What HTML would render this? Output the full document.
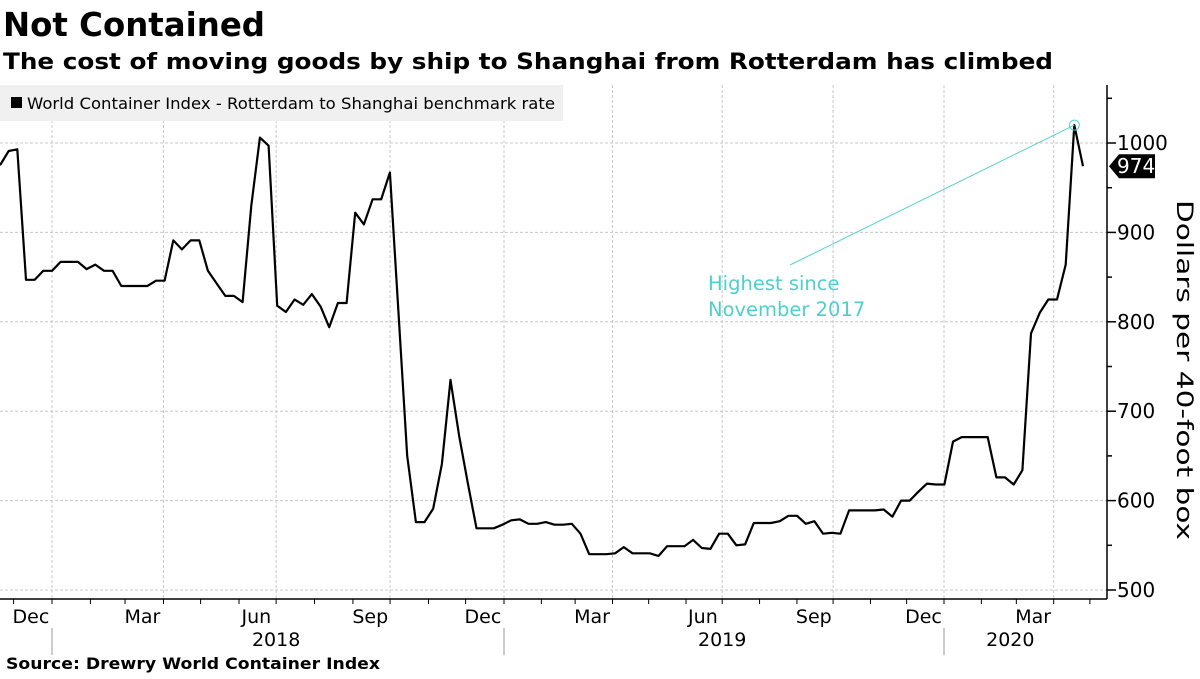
<!DOCTYPE html>
<html><head><meta charset="utf-8"><style>
body{margin:0;background:#fff;width:1200px;height:675px;overflow:hidden;font-family:"DejaVu Sans",sans-serif}
</style></head><body>
<svg id="chart" width="1200" height="675" xmlns="http://www.w3.org/2000/svg" font-family="DejaVu Sans, sans-serif">
<text x="3" y="36" font-size="33" font-weight="bold" fill="#000" textLength="262" lengthAdjust="spacingAndGlyphs">Not Contained</text>
<text x="3" y="69" font-size="22" font-weight="bold" fill="#000" textLength="1050" lengthAdjust="spacingAndGlyphs">The cost of moving goods by ship to Shanghai from Rotterdam has climbed</text>
<g id="grid"></g>
<g id="axes"></g>
<rect x="0" y="85" width="563" height="36" fill="#f0f0f0"/>
<rect x="11" y="97" width="11" height="11" fill="#000"/>
<text x="27" y="109" font-size="16" fill="#000" textLength="528" lengthAdjust="spacingAndGlyphs">World Container Index - Rotterdam to Shanghai benchmark rate</text>
<g id="series"></g>
<text transform="translate(1177,370) rotate(90)" text-anchor="middle" font-size="22" fill="#000" textLength="340" lengthAdjust="spacingAndGlyphs">Dollars per 40-foot box</text>
<text x="6" y="669" font-size="16" font-weight="bold" fill="#000" textLength="374" lengthAdjust="spacingAndGlyphs">Source: Drewry World Container Index</text>
</svg>
<script>
const values = [975,991,993,847,847,857,857,867,867,867,859,864,857,857,840,840,840,840,846,846,891,881,891,891,857,843,829,829,822,930,1006,997,818,811,825,819,831,817,794,821,821,922,909,937,937,967,
810,650,
576,576,591,641,735,672,619,569,569,569,573,578,579,574,574,576,573,573,574,563,540,540,540,541,548,541,541,541,538,549,549,549,556,547,546,563,563,550,551,575,575,575,577,583,583,574,577,563,564,563,589,589,589,589,
590,582,600,600,610,619,618,618,666,671,671,671,671,626,626,618,634,787,810,825,825,864,1020,974];
const yTicks = [500,600,700,800,900,1000];
const monthLabels = ["Dec","Mar","Jun","Sep","Dec","Mar","Jun","Sep","Dec","Mar"];
const monthLabelDates = ["2017-12-15","2018-03-15","2018-06-15","2018-09-15","2018-12-15","2019-03-15","2019-06-15","2019-09-15","2019-12-15","2020-03-15"];
const yearLabels = ["2018","2019","2020"];
const yearLabelDates = ["2018-07-01","2019-07-01","2020-02-25"];

const NS="http://www.w3.org/2000/svg";
const plotTop=85, plotBottom=599, axisX=1107, plotRight=1083;
function y(v){return 143+(1000-v)*0.894;}
function xi(i){return i*plotRight/(values.length-1);}
const dA=Date.UTC(2018,0,1), dB=Date.UTC(2019,0,1), dC=Date.UTC(2020,0,1);
function xd(s){const p=s.split('-').map(Number);const t=Date.UTC(p[0],p[1]-1,p[2]);
  if(t<dB) return 52+(t-dA)/(dB-dA)*452;
  return 504+(t-dB)/(dC-dB)*440;}
function mk(tag,attrs,parent){const e=document.createElementNS(NS,tag);for(const k in attrs)e.setAttribute(k,attrs[k]);parent.appendChild(e);return e;}
const grid=document.getElementById('grid'), axes=document.getElementById('axes'), series=document.getElementById('series');
yTicks.forEach(v=>{
  const g=mk('line',{x1:0,x2:axisX,y1:y(v),y2:y(v),stroke:'#c8c8c8','stroke-dasharray':'3,2','stroke-width':1},grid);
  
  
  const t=mk('text',{x:1117,y:y(v)+7,'font-size':20,fill:'#000'},axes);
  t.textContent=v;
  
  
});
for(let v=500;v<=1050;v+=50){
  const t=mk('line',{x1:axisX,x2:axisX+(v%100===0?9:5),y1:y(v),y2:y(v),stroke:'#000','stroke-width':1.5},axes);
  
  
}
const ya=mk('line',{x1:axisX,x2:axisX,y1:plotTop,y2:plotBottom,stroke:'#000','stroke-width':1.5},axes);


const xa=mk('line',{x1:0,x2:axisX,y1:plotBottom,y2:plotBottom,stroke:'#000','stroke-width':1.5},axes);


for(let yr=2017;yr<=2020;yr++){for(let m=1;m<=12;m++){
  const s=yr+'-'+String(m).padStart(2,'0')+'-01';const x=xd(s);
  if(x<0||x>1100)continue;
  const t=mk('line',{x1:x,x2:x,y1:plotBottom,y2:plotBottom+5,stroke:'#000','stroke-width':1},axes);
  
  
  if((m-1)%3===0){
    const g=mk('line',{x1:x,x2:x,y1:plotTop,y2:plotBottom,stroke:'#c8c8c8','stroke-dasharray':'3,2','stroke-width':1},grid);
    
    
    if(m===1){
      const sp=mk('line',{x1:x,x2:x,y1:628,y2:655,stroke:'#999','stroke-width':1},axes);
      
      
    }
  }
}}
monthLabels.forEach((l,i)=>{
  const t=mk('text',{x:xd(monthLabelDates[i]),y:623,'text-anchor':'middle','font-size':19,fill:'#000'},axes);
  t.textContent=l;
  
  
});
yearLabels.forEach((l,i)=>{
  const t=mk('text',{x:xd(yearLabelDates[i]),y:646,'text-anchor':'middle','font-size':19,fill:'#000'},axes);
  t.textContent=l;
  
  
});
const pts=values.map((v,i)=>xi(i).toFixed(1)+','+y(v).toFixed(1)).join(' ');
const pl=mk('polyline',{points:pts,fill:'none',stroke:'#000','stroke-width':2.2,'stroke-linejoin':'round'},series);


let mi=0;values.forEach((v,i)=>{if(v>values[mi])mi=i;});
const ax=xi(mi), ay=y(values[mi]);
const al=mk('line',{x1:790,y1:265,x2:ax,y2:ay,stroke:'#5ccfd0','stroke-width':1},series);


const ac=mk('circle',{cx:ax,cy:ay,r:5,fill:'none',stroke:'#5ccfd0','stroke-width':1},series);


['Highest since','November 2017'].forEach((s,i)=>{
  const t=mk('text',{x:708,y:290+i*26,'font-size':19.5,fill:'#4fcfcc'},series);
  t.textContent=s;
  
  
});
const lv=values[values.length-1], ly=y(lv);
const tag=mk('path',{d:`M${axisX+2},${ly} L${axisX+12},${ly-12} L1155,${ly-12} L1155,${ly+12} L${axisX+12},${ly+12} Z`,fill:'#000'},series);


const tt=mk('text',{x:1117,y:ly+7,'font-size':20,fill:'#fff'},series);
tt.textContent=lv;


</script>
</body></html>
